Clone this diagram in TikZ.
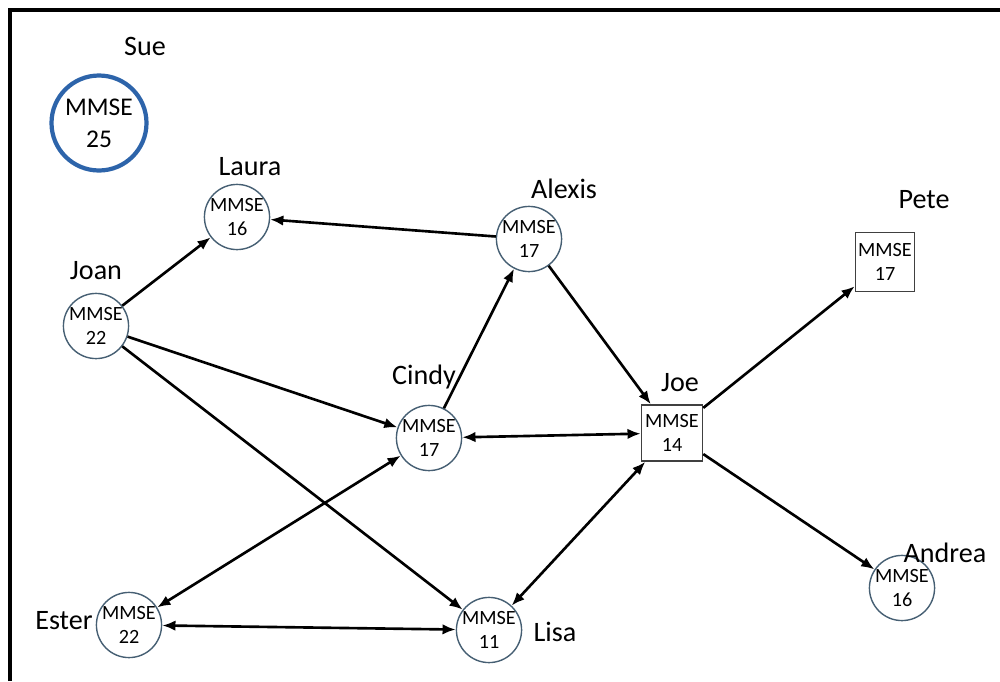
\documentclass[tikz,border=0pt]{standalone}
\usepackage{fontspec}
\setmainfont{Carlito}
\usepackage{tikz}
\usetikzlibrary{positioning,arrows.meta}
\usepackage{xcolor}
\definecolor{kreisrand}{RGB}{70,95,115}
\definecolor{suerand}{RGB}{45,100,170}

\begin{document}
\begin{tikzpicture}[
    kreis/.style={circle,draw=kreisrand,line width=0.8pt,minimum size=1.2cm,inner sep=0pt,
                  align=center,font=\fontsize{11.5}{13.5}\selectfont},
    kasten/.style={rectangle,draw=black!75,line width=0.9pt,inner sep=0pt,
                   align=center,font=\fontsize{11.5}{14}\selectfont},
    etikett/.style={font=\fontsize{16}{19}\selectfont,inner sep=0pt},
    pfeil/.style={line width=1.5pt,-{Latex[length=7.5pt,width=6pt]}},
    doppel/.style={line width=1.5pt,{Latex[length=7.5pt,width=6pt]}-{Latex[length=7.5pt,width=6pt]}}
  ]
  \useasboundingbox (0,0) rectangle (20,-13.62);
  % Rahmen
  \draw[line width=2pt] (0.2,-13.62) -- (0.2,-0.2) -- (20,-0.2);

  % Sue (allein, blau)
  \node[circle,draw=suerand,line width=2.4pt,minimum size=1.9cm,inner sep=0pt,align=center,
        font=\fontsize{14.5}{18}\selectfont] (sue) at (1.98,-2.46) {MMSE\\25};

  % Personen mit Kreis
  \foreach \n/\x/\y/\w in {laura/4.74/-4.34/16, joan/1.92/-6.52/22, alexis/10.58/-4.78/17,
                           cindy/8.58/-8.76/17, andrea/18.04/-11.76/16,
                           ester/2.58/-12.50/22, lisa/9.78/-12.60/11}{
    \node[kreis] (\n) at (\x,\y) {MMSE\\\w};
  }

  % Personen mit Kasten
  \node[kasten,minimum width=1.22cm,minimum height=1.12cm] (joe) at (13.44,-8.66) {MMSE\\14};
  \node[kasten,minimum width=1.18cm,minimum height=1.18cm] (pete) at (17.70,-5.24) {MMSE\\17};

  % Namen
  \foreach \t/\x/\y in {Sue/2.90/-0.92, Laura/5.00/-3.34, Joan/1.92/-5.42, Alexis/11.28/-3.78,
                        Cindy/8.48/-7.54, Joe/13.60/-7.66, Pete/18.48/-4.00,
                        Andrea/18.90/-11.06, Ester/1.28/-12.42, Lisa/11.10/-12.64}{
    \node[etikett] (lab\t) at (\x,\y) {\t};
  }

  % Beziehungen
  \foreach \a/\b in {joan/laura, alexis/laura, joan/cindy, joan/lisa, cindy/alexis,
                     alexis/joe, joe/pete, joe/andrea}{
    \draw[pfeil] (\a) -- (\b);
  }
  \foreach \a/\b in {cindy/joe, cindy/ester, joe/lisa, ester/lisa}{
    \draw[doppel] (\a) -- (\b);
  }

\end{tikzpicture}
\end{document}
